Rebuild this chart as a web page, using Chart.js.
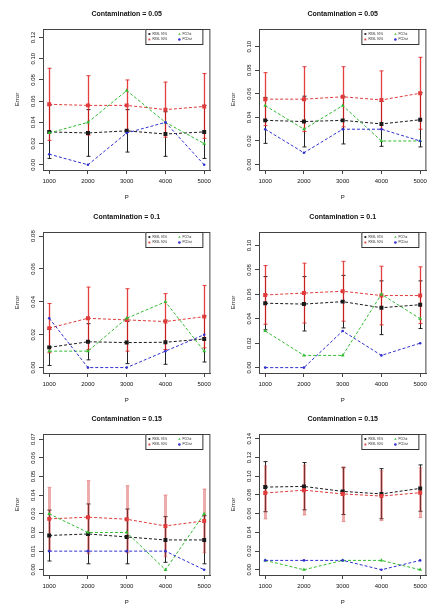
<!DOCTYPE html>
<html>
<head>
<meta charset="utf-8">
<script src="https://cdn.jsdelivr.net/npm/chart.js@4.4.1/dist/chart.umd.min.js"></script>
<style>
  body { margin: 0; background: #fff; }
  #grid { position: relative; width: 431px; height: 608px; }
  #grid canvas { position: absolute; }
</style>
</head>
<body>
<div id="grid"></div>
<script>
// x values (P) shared by every panel
const pValues = [1000, 2000, 3000, 4000, 5000];
const seriesNames = ["RSSL 95%", "RSSL 90%", "PCOut", "PCDist"];

// Contamination = 0.05 (left)
const a05Rssl95 = [0.031, 0.030, 0.032, 0.029, 0.031];
const a05Rssl95Lo = [0.006, 0.008, 0.012, 0.008, 0.006];
const a05Rssl95Hi = [0.056, 0.052, 0.052, 0.050, 0.056];
const a05Rssl90 = [0.057, 0.056, 0.056, 0.052, 0.055];
const a05Rssl90Lo = [0.023, 0.028, 0.032, 0.026, 0.025];
const a05Rssl90Hi = [0.091, 0.084, 0.080, 0.078, 0.086];
const a05PCOut = [0.03, 0.04, 0.07, 0.04, 0.02];
const a05PCDist = [0.01, 0.00, 0.03, 0.04, 0.00];

// Contamination = 0.05 (right)
const b05Rssl95 = [0.0375, 0.0365, 0.0375, 0.0345, 0.038];
const b05Rssl95Lo = [0.018, 0.015, 0.0175, 0.0155, 0.015];
const b05Rssl95Hi = [0.057, 0.058, 0.0575, 0.0535, 0.061];
const b05Rssl90 = [0.0555, 0.0555, 0.0575, 0.0548, 0.0605];
const b05Rssl90Lo = [0.033, 0.028, 0.032, 0.030, 0.030];
const b05Rssl90Hi = [0.078, 0.083, 0.083, 0.0795, 0.091];
const b05PCOut = [0.05, 0.03, 0.05, 0.02, 0.02];
const b05PCDist = [0.03, 0.01, 0.03, 0.03, 0.02];

// Contamination = 0.1 (left)
const a10Rssl95 = [0.0123, 0.0157, 0.0152, 0.0154, 0.0174];
const a10Rssl95Lo = [0.0013, 0.0047, 0.0024, 0.002, 0.0034];
const a10Rssl95Hi = [0.0233, 0.0267, 0.028, 0.0288, 0.0314];
const a10Rssl90 = [0.024, 0.030, 0.029, 0.028, 0.031];
const a10Rssl90Lo = [0.009, 0.011, 0.010, 0.011, 0.012];
const a10Rssl90Hi = [0.039, 0.049, 0.048, 0.045, 0.050];
const a10PCOut = [0.01, 0.01, 0.03, 0.04, 0.01];
const a10PCDist = [0.03, 0.00, 0.00, 0.01, 0.02];

// Contamination = 0.1 (right)
const b10Rssl95 = [0.0527, 0.052, 0.054, 0.049, 0.0515];
const b10Rssl95Lo = [0.031, 0.030, 0.0325, 0.027, 0.032];
const b10Rssl95Hi = [0.0745, 0.0745, 0.0755, 0.071, 0.071];
const b10Rssl90 = [0.0595, 0.061, 0.0625, 0.059, 0.059];
const b10Rssl90Lo = [0.0355, 0.0365, 0.038, 0.035, 0.036];
const b10Rssl90Hi = [0.0835, 0.0855, 0.087, 0.083, 0.0825];
const b10PCOut = [0.03, 0.01, 0.01, 0.06, 0.04];
const b10PCDist = [0.00, 0.00, 0.03, 0.01, 0.02];

// Contamination = 0.15 (left)
const a15Rssl95 = [0.0184, 0.0192, 0.0176, 0.016, 0.016];
const a15Rssl95Lo = [0.0047, 0.0032, 0.0032, 0.004, 0.0032];
const a15Rssl95Hi = [0.032, 0.0353, 0.0326, 0.0285, 0.029];
const a15Rssl90 = [0.0273, 0.0282, 0.0271, 0.0235, 0.0262];
const a15Rssl90Lo = [0.0104, 0.0086, 0.0091, 0.0069, 0.0091];
const a15Rssl90Hi = [0.0442, 0.0478, 0.0451, 0.0401, 0.0433];
const a15PCOut = [0.03, 0.02, 0.02, 0.00, 0.03];
const a15PCDist = [0.01, 0.01, 0.01, 0.01, 0.00];

// Contamination = 0.15 (right)
const b15Rssl95 = [0.0883, 0.089, 0.0837, 0.081, 0.0869];
const b15Rssl95Lo = [0.062, 0.064, 0.059, 0.0545, 0.0625];
const b15Rssl95Hi = [0.1155, 0.1145, 0.109, 0.108, 0.112];
const b15Rssl90 = [0.082, 0.085, 0.081, 0.0787, 0.0823];
const b15Rssl90Lo = [0.0543, 0.0585, 0.0514, 0.0525, 0.0557];
const b15Rssl90Hi = [0.111, 0.1117, 0.110, 0.1057, 0.109];
const b15PCOut = [0.01, 0.00, 0.01, 0.01, 0.00];
const b15PCDist = [0.01, 0.01, 0.01, 0.00, 0.01];

// y tick labels per panel
const yTicks12 = [0, 0.02, 0.04, 0.06, 0.08, 0.10, 0.12];
const yTicks10 = [0, 0.02, 0.04, 0.06, 0.08, 0.10];
const yTicks08 = [0, 0.02, 0.04, 0.06, 0.08];
const yTicks07 = [0, 0.01, 0.02, 0.03, 0.04, 0.05, 0.06, 0.07];
const yTicks14 = [0, 0.02, 0.04, 0.06, 0.08, 0.10, 0.12, 0.14];

const FONT = "'Liberation Sans', Arial, Helvetica, sans-serif";

const panels = [
  { title: "Contamination = 0.05", col: 0, row: 0, yTicks: yTicks12, yMin: -0.0049, yMax: 0.128,
    series: [a05Rssl95, a05Rssl90, a05PCOut, a05PCDist], lo: [a05Rssl95Lo, a05Rssl90Lo], hi: [a05Rssl95Hi, a05Rssl90Hi], pink: false },
  { title: "Contamination = 0.05", col: 1, row: 0, yTicks: yTicks10, yMin: -0.0046, yMax: 0.115,
    series: [b05Rssl95, b05Rssl90, b05PCOut, b05PCDist], lo: [b05Rssl95Lo, b05Rssl90Lo], hi: [b05Rssl95Hi, b05Rssl90Hi], pink: false },
  { title: "Contamination = 0.1", col: 0, row: 1, yTicks: yTicks08, yMin: -0.0033, yMax: 0.0825,
    series: [a10Rssl95, a10Rssl90, a10PCOut, a10PCDist], lo: [a10Rssl95Lo, a10Rssl90Lo], hi: [a10Rssl95Hi, a10Rssl90Hi], pink: false },
  { title: "Contamination = 0.1", col: 1, row: 1, yTicks: yTicks10, yMin: -0.0044, yMax: 0.111,
    series: [b10Rssl95, b10Rssl90, b10PCOut, b10PCDist], lo: [b10Rssl95Lo, b10Rssl90Lo], hi: [b10Rssl95Hi, b10Rssl90Hi], pink: false },
  { title: "Contamination = 0.15", col: 0, row: 2, yTicks: yTicks07, yMin: -0.0028, yMax: 0.0728,
    series: [a15Rssl95, a15Rssl90, a15PCOut, a15PCDist], lo: [a15Rssl95Lo, a15Rssl90Lo], hi: [a15Rssl95Hi, a15Rssl90Hi], pink: true },
  { title: "Contamination = 0.15", col: 1, row: 2, yTicks: yTicks14, yMin: -0.0056, yMax: 0.145,
    series: [b15Rssl95, b15Rssl90, b15PCOut, b15PCDist], lo: [b15Rssl95Lo, b15Rssl90Lo], hi: [b15Rssl95Hi, b15Rssl90Hi], pink: true }
];

const lineColors = ["#1a1a1a", "#e03a3a", "#33bb33", "#3030d0"];
const pointStyles = ["rect", "rect", "triangle", "circle"];
const pointSizes = [2.8, 2.8, 2.2, 1.3];

function drawMarker(ctx, style, r, x, y, color) {
  ctx.fillStyle = color;
  ctx.beginPath();
  if (style === "rect") {
    const s = r * Math.SQRT1_2;
    ctx.rect(x - s, y - s, 2 * s, 2 * s);
  } else if (style === "triangle") {
    ctx.moveTo(x, y - r);
    ctx.lineTo(x + r * 0.87, y + r * 0.5);
    ctx.lineTo(x - r * 0.87, y + r * 0.5);
    ctx.closePath();
  } else {
    ctx.arc(x, y, r, 0, Math.PI * 2);
  }
  ctx.fill();
}

// error bars, box, rotated y labels, titles and the R-style legend
const rPlot = {
  id: "rPlot",
  beforeDatasetsDraw(chart) {
    const ctx = chart.ctx, xs = chart.scales.x, ys = chart.scales.y;
    chart.data.datasets.forEach(ds => {
      if (!ds.errLo) return;
      ctx.save();
      ctx.strokeStyle = ds.errColor;
      ctx.lineWidth = ds.errWidth;
      ds.data.forEach((pt, i) => {
        const px = Math.round(xs.getPixelForValue(pt.x)) + 0.5;
        const lo = ys.getPixelForValue(ds.errLo[i]);
        const hi = ys.getPixelForValue(ds.errHi[i]);
        ctx.beginPath();
        ctx.moveTo(px, lo); ctx.lineTo(px, hi);
        ctx.stroke();
        ctx.lineWidth = 1;
        ctx.beginPath();
        ctx.moveTo(px - 2, lo); ctx.lineTo(px + 2, lo);
        ctx.moveTo(px - 2, hi); ctx.lineTo(px + 2, hi);
        ctx.stroke();
        ctx.lineWidth = ds.errWidth;
      });
      ctx.restore();
    });
  },
  afterDraw(chart, args, opts) {
    const ctx = chart.ctx, a = chart.chartArea, ys = chart.scales.y;
    const cx = (a.left + a.right) / 2;
    ctx.save();
    ctx.strokeStyle = "#444";
    ctx.lineWidth = 1;
    ctx.strokeRect(a.left + 0.5, a.top + 0.5, a.right - a.left - 1, a.bottom - a.top);

    ctx.fillStyle = "#111";
    ctx.textAlign = "center";
    ctx.textBaseline = "middle";
    ctx.font = "6px " + FONT;
    ys.ticks.forEach(t => {
      const py = ys.getPixelForValue(t.value);
      ctx.save();
      ctx.translate(33, py);
      ctx.rotate(-Math.PI / 2);
      ctx.fillText(t.value.toFixed(2), 0, 0);
      ctx.restore();
    });

    ctx.font = "6px " + FONT;
    ctx.save();
    ctx.translate(17, (a.top + a.bottom) / 2);
    ctx.rotate(-Math.PI / 2);
    ctx.fillText("Error", 0, 0);
    ctx.restore();
    ctx.fillText("P", cx, 197);

    ctx.font = "bold 7px " + FONT;
    ctx.fillText(opts.title, cx, 14);

    // legend box in the top-right corner of the plot
    const lx = a.right - 65, ly = a.top;
    ctx.fillStyle = "#fff";
    ctx.fillRect(lx, ly, 57, 15);
    ctx.strokeStyle = "#333";
    ctx.strokeRect(lx + 0.5, ly + 0.5, 57, 15);
    ctx.font = "3px " + FONT;
    ctx.textAlign = "left";
    chart.data.datasets.forEach((ds, i) => {
      const col = Math.floor(i / 2), row = i % 2;
      const sx = lx + 4 + col * 30, sy = ly + 5 + row * 5.5;
      drawMarker(ctx, ds.pointStyle, 1.3, sx, sy, ds.borderColor);
      ctx.fillStyle = "#222";
      ctx.fillText(ds.label, sx + 3, sy);
    });
    ctx.restore();
  }
};

const grid = document.getElementById("grid");

panels.forEach(p => {
  const canvas = document.createElement("canvas");
  canvas.width = 215;
  canvas.height = 203;
  canvas.style.left = (p.col * 216) + "px";
  canvas.style.top = [0, 203, 405][p.row] + "px";
  grid.appendChild(canvas);

  const datasets = p.series.map((vals, i) => {
    const ds = {
      label: seriesNames[i],
      data: pValues.map((x, j) => ({ x: x, y: vals[j] })),
      borderColor: lineColors[i],
      backgroundColor: lineColors[i],
      borderWidth: 1,
      borderDash: [3, 2],
      pointStyle: pointStyles[i],
      pointRadius: pointSizes[i],
      pointBorderWidth: 0,
      tension: 0,
      order: 4 - i
    };
    if (i < 2) {
      ds.errLo = p.lo[i];
      ds.errHi = p.hi[i];
      if (i === 0) {
        ds.errColor = "#222";
        ds.errWidth = 1;
      } else {
        ds.errColor = p.pink ? "rgba(215,70,70,0.45)" : "rgba(225,30,30,0.85)";
        ds.errWidth = p.pink ? 3 : 1.3;
      }
    }
    return ds;
  });

  new Chart(canvas, {
    type: "line",
    data: { datasets: datasets },
    options: {
      responsive: false,
      animation: false,
      events: [],
      layout: { padding: { top: 29, right: 3, left: 0, bottom: 0 } },
      plugins: {
        legend: { display: false },
        tooltip: { enabled: false },
        rPlot: { title: p.title }
      },
      scales: {
        x: {
          type: "linear",
          min: 840,
          max: 5160,
          afterBuildTicks: s => { s.ticks = pValues.map(v => ({ value: v })); },
          afterFit: s => { s.height = 33; },
          grid: { drawOnChartArea: false, drawTicks: true, tickLength: 4, color: "#444" },
          border: { display: true, color: "#444" },
          ticks: {
            color: "#111",
            font: { family: FONT, size: 6 },
            padding: 4,
            maxRotation: 0,
            autoSkip: false,
            callback: v => String(v)
          }
        },
        y: {
          min: p.yMin,
          max: p.yMax,
          afterBuildTicks: s => { s.ticks = p.yTicks.map(v => ({ value: v })); },
          afterFit: s => { s.width = 43; },
          grid: { drawOnChartArea: false, drawTicks: true, tickLength: 4, color: "#444" },
          border: { display: true, color: "#444" },
          ticks: { display: false }
        }
      }
    },
    plugins: [rPlot]
  });
});
</script>
</body>
</html>
